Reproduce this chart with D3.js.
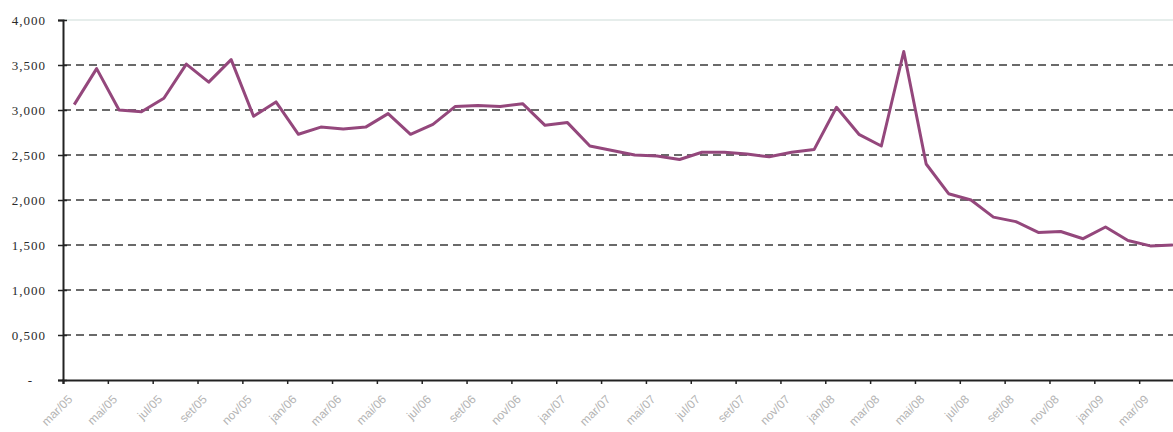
<!DOCTYPE html>
<html>
<head>
<meta charset="utf-8">
<script src="https://cdn.jsdelivr.net/npm/d3@7"></script>
<style>
  body { margin: 0; background: #fff; }
  svg { display: block; }
</style>
</head>
<body>
<div id="chart"></div>
<script>
// monthly series, mar/05 .. abr/09
var months = ["mar/05","abr/05","mai/05","jun/05","jul/05","ago/05","set/05","out/05","nov/05","dez/05",
              "jan/06","fev/06","mar/06","abr/06","mai/06","jun/06","jul/06","ago/06","set/06","out/06","nov/06","dez/06",
              "jan/07","fev/07","mar/07","abr/07","mai/07","jun/07","jul/07","ago/07","set/07","out/07","nov/07","dez/07",
              "jan/08","fev/08","mar/08","abr/08","mai/08","jun/08","jul/08","ago/08","set/08","out/08","nov/08","dez/08",
              "jan/09","fev/09","mar/09","abr/09"];
var values = [3060,3460,3000,2980,3130,3510,3310,3560,2930,3090,
              2730,2810,2790,2810,2960,2730,2840,3040,3050,3040,3070,2830,
              2860,2600,2550,2500,2490,2450,2530,2530,2510,2480,2530,2560,
              3030,2730,2600,3650,2400,2070,2000,1810,1760,1640,1650,1570,
              1700,1550,1490,1500];
var yTicks = [0,500,1000,1500,2000,2500,3000,3500,4000];

var width = 1173, height = 432;
var x0 = 63, catW = 22.42, yTop = 20, yBot = 380;

var svg = d3.select("#chart").append("svg")
    .attr("width", width)
    .attr("height", height);

var xScale = d3.scaleBand().domain(months).range([x0, x0 + catW * months.length]).padding(0);
var xEdge = d3.scaleLinear().domain([0, months.length]).range([x0, x0 + catW * months.length]);
var yScale = d3.scaleLinear().domain([0, 4000]).range([yBot, yTop]);

// top border of plot area
svg.append("line")
    .attr("x1", x0).attr("x2", width)
    .attr("y1", yScale(4000)).attr("y2", yScale(4000))
    .attr("stroke", "#cddcd8").attr("stroke-width", 1);

// dashed gridlines
svg.append("g").selectAll("line")
    .data(yTicks.filter(function(d) { return d > 0 && d < 4000; }))
    .enter().append("line")
    .attr("x1", x0).attr("x2", width)
    .attr("y1", function(d) { return yScale(d); })
    .attr("y2", function(d) { return yScale(d); })
    .attr("stroke", "#3a3a3a")
    .attr("stroke-width", 1.6)
    .attr("stroke-dasharray", "8,5");

// line
var line = d3.line()
    .x(function(d, i) { return xScale(months[i]) + xScale.bandwidth() / 2; })
    .y(function(d) { return yScale(d); });

svg.append("path")
    .datum(values)
    .attr("fill", "none")
    .attr("stroke", "#94477c")
    .attr("stroke-width", 3)
    .attr("stroke-linejoin", "round")
    .attr("d", line);

// y axis
var yAxis = d3.axisLeft(yScale)
    .tickValues(yTicks)
    .tickSize(5)
    .tickFormat(function(d) { return d === 0 ? "-" : (d / 1000).toFixed(3).replace(".", ","); });

var gy = svg.append("g")
    .attr("transform", "translate(" + x0 + ",0)")
    .call(yAxis);
gy.select(".domain").attr("stroke", "#222").attr("stroke-width", 2);
gy.selectAll(".tick line").attr("x1", 4).attr("x2", -5).attr("stroke", "#222").attr("stroke-width", 1.5);
gy.selectAll(".tick text")
    .attr("x", function(d) { return d === 0 ? -30 : -17; })
    .style("font-family", "'Liberation Serif', serif")
    .style("font-size", "13px")
    .style("letter-spacing", "1px")
    .attr("fill", "#2a2a2a");

// x axis tick marks at category boundaries, every second month
var xAxis = d3.axisBottom(xEdge)
    .tickValues(d3.range(0, months.length + 1, 2))
    .tickSize(4)
    .tickFormat("");
var gx = svg.append("g")
    .attr("transform", "translate(0," + yBot + ")")
    .call(xAxis);
gx.select(".domain").attr("stroke", "#222").attr("stroke-width", 2.2);
gx.selectAll(".tick line").attr("stroke", "#222").attr("stroke-width", 1.5);

// rotated month labels
svg.append("g").selectAll("text")
    .data(months.filter(function(d, i) { return i % 2 === 0; }))
    .enter().append("text")
    .attr("transform", function(d) {
        return "translate(" + (xScale(d) + xScale.bandwidth() / 2 - 1) + "," + (yBot + 20) + ") rotate(-45)";
    })
    .attr("text-anchor", "end")
    .style("font-family", "'Liberation Sans', Arial, sans-serif")
    .style("font-size", "12px")
    .attr("fill", "#b4b4b4")
    .text(function(d) { return d; });
</script>
</body>
</html>
